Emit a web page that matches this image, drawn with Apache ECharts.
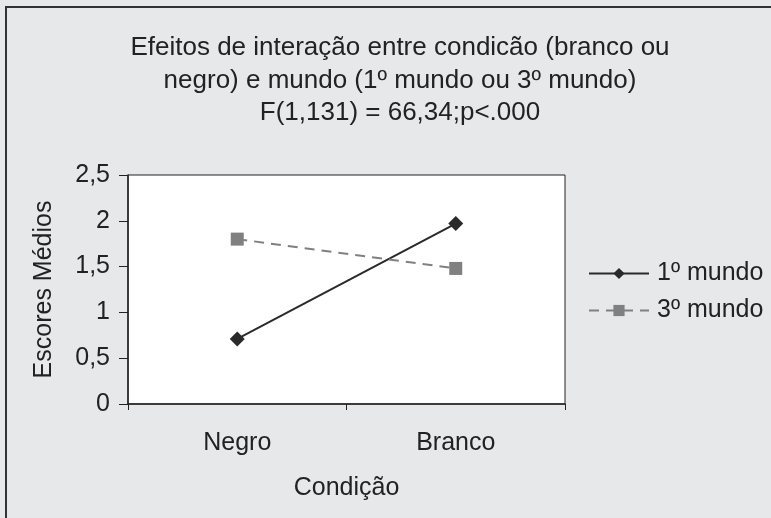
<!DOCTYPE html>
<html>
<head>
<meta charset="utf-8">
<script src="https://cdn.jsdelivr.net/npm/echarts@6/dist/echarts.min.js"></script>
<style>
html,body{margin:0;padding:0;background:#e7e8ea;}
#c{width:771px;height:518px;}
</style>
</head>
<body>
<div id="c"></div>
<script>
var categories = ['Negro', 'Branco'];
var mundo1 = [0.71, 1.97];
var mundo3 = [1.80, 1.48];
var seriesNames = ['1º mundo', '3º mundo'];
var titleText = 'Efeitos de interação entre condicão (branco ou\nnegro) e mundo (1º mundo ou 3º mundo)\nF(1,131) = 66,34;p<.000';

var FONT = '"Liberation Sans", Arial, sans-serif';
var FS = 25;
var chart = echarts.init(document.getElementById('c'));
chart.setOption({
  animation: false,
  backgroundColor: '#e7e8ea',
  textStyle: {fontFamily: FONT},
  graphic: [{
    type: 'rect', z: 0, silent: true,
    shape: {x: 6, y: 7, width: 800, height: 600},
    style: {fill: 'none', stroke: '#333', lineWidth: 2}
  }],
  title: {
    text: titleText,
    left: 395, top: 27, textAlign: 'center',
    textStyle: {fontFamily: FONT, fontSize: 26, fontWeight: 'normal', color: '#222', lineHeight: 32.5}
  },
  legend: {
    left: 588, top: 261, orient: 'vertical', padding: 0,
    itemWidth: 60, itemHeight: 14, itemGap: 12,
    textStyle: {fontFamily: FONT, fontSize: FS, color: '#222', padding: [0, 0, 0, 3]},
    data: seriesNames
  },
  grid: {
    left: 128, top: 175, right: 206, bottom: 114,
    show: true, backgroundColor: '#ffffff', borderColor: '#222', borderWidth: 1
  },
  xAxis: {
    type: 'category', data: categories, boundaryGap: true,
    name: 'Condição', nameLocation: 'middle', nameGap: 72,
    nameTextStyle: {fontFamily: FONT, fontSize: FS, color: '#222'},
    axisLine: {lineStyle: {color: '#222', width: 1.5}},
    axisTick: {show: true, length: 6, lineStyle: {color: '#222'}},
    axisLabel: {fontFamily: FONT, fontSize: FS, color: '#222', margin: 27},
    splitLine: {show: false}
  },
  yAxis: {
    type: 'value', min: 0, max: 2.5, interval: 0.5,
    name: 'Escores Médios', nameLocation: 'middle', nameGap: 71,
    nameTextStyle: {fontFamily: FONT, fontSize: FS, color: '#222'},
    axisLine: {show: true, lineStyle: {color: '#222', width: 1.5}},
    axisTick: {show: true, length: 9, lineStyle: {color: '#222'}},
    axisLabel: {fontFamily: FONT, fontSize: FS, color: '#222', margin: 18,
      formatter: function (v) { return String(v).replace('.', ','); }},
    splitLine: {show: false}
  },
  series: [{
    name: seriesNames[0], type: 'line', data: mundo1,
    symbol: 'diamond', symbolSize: 15,
    itemStyle: {color: '#2a2a2a'},
    lineStyle: {color: '#2a2a2a', width: 2}
  }, {
    name: seriesNames[1], type: 'line', data: mundo3,
    symbol: 'rect', symbolSize: 13,
    itemStyle: {color: '#808080'},
    lineStyle: {color: '#808080', width: 2, type: [10, 7]}
  }]
});
</script>
</body>
</html>
